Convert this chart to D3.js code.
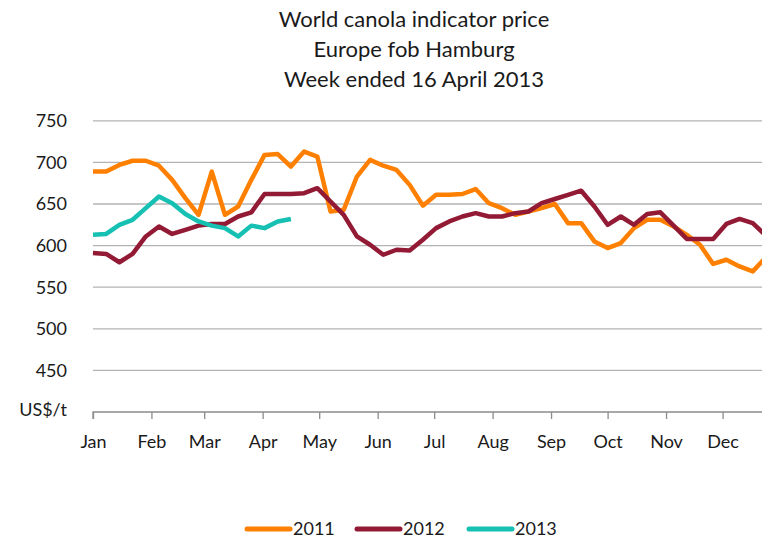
<!DOCTYPE html>
<html>
<head>
<meta charset="utf-8">
<script src="https://cdn.jsdelivr.net/npm/d3@7"></script>
<style>
  body { margin: 0; background: #fff; }
  svg { display: block; font-family: Lato, "Open Sans", sans-serif; }
</style>
</head>
<body>
<svg id="chart"></svg>
<script>
// === Data (weekly prices, US$/t) ===
const titleLines = ["World canola indicator price", "Europe fob Hamburg", "Week ended 16 April 2013"];
const yTicks = [450, 500, 550, 600, 650, 700, 750];

const price2011 = [689, 689, 697, 702, 702, 696, 679, 657, 637, 689, 637, 647, 679, 709, 710, 695,
  713, 707, 641, 643, 683, 703, 696, 691, 673, 648, 661, 661, 662, 668, 651, 645, 637, 641, 645, 650,
  627, 627, 605, 597, 603, 621, 631, 631, 623, 613, 601, 578, 583, 575, 569, 586];
const price2012 = [591, 590, 580, 590, 611, 623, 614, 619, 624, 626, 626, 635, 640, 662, 662, 662,
  663, 669, 653, 637, 611, 601, 589, 595, 594, 607, 621, 629, 635, 639, 635, 635, 639, 641, 651, 656,
  661, 666, 647, 625, 635, 625, 638, 640, 624, 608, 608, 608, 626, 632, 627, 612];
const price2013 = [613, 614, 625, 631, 645, 659, 651, 638, 629, 624, 621, 611, 624, 621, 629, 632];

const series = [
  { name: "2011", values: price2011, color: "#ff8000" },
  { name: "2012", values: price2012, color: "#931a35" },
  { name: "2013", values: price2013, color: "#16c0b3" }
];

const W = 762, H = 540;
const svg = d3.select("#chart").attr("width", W).attr("height", H);

const start = new Date(Date.UTC(2011, 0, 1));
const end = new Date(Date.UTC(2012, 0, 1));
const x = d3.scaleUtc().domain([start, end]).range([93, 93 + 365 * 1.885]);
const y = d3.scaleLinear().domain([400, 750]).range([412, 120.8]);
const weekDate = i => d3.utcDay.offset(start, 7 * i);
const months = d3.utcMonth.range(start, end);

// title
svg.append("g").selectAll("text").data(titleLines).enter().append("text")
  .attr("x", 414).attr("y", (d, i) => 27 + i * 30)
  .attr("text-anchor", "middle").style("font-size", "22px").attr("fill", "#1a1a1a")
  .text(d => d);

// gridlines
svg.append("g").selectAll("line").data(yTicks).enter().append("line")
  .attr("x1", 93).attr("x2", W).attr("y1", d => y(d)).attr("y2", d => y(d))
  .attr("stroke", "#b3b3b3").attr("stroke-width", 1.3);

// y labels
svg.append("g").selectAll("text").data(yTicks).enter().append("text")
  .attr("x", 67).attr("y", d => y(d)).attr("dy", "0.35em")
  .attr("text-anchor", "end").style("font-size", "18px").attr("fill", "#1a1a1a")
  .text(d => d);
svg.append("text").attr("x", 67).attr("y", y(400) + 4)
  .attr("text-anchor", "end").style("font-size", "18px").attr("fill", "#1a1a1a").text("US$/t");

// x axis
const xAxis = svg.append("g").attr("transform", `translate(0,${y(400)})`)
  .call(d3.axisBottom(x).tickValues(months).tickFormat(d3.utcFormat("%b")).tickSize(7).tickPadding(16));
xAxis.select(".domain").attr("stroke", "#8c8c8c").attr("stroke-width", 1.3).attr("d", `M93,7V0H${W}`);
xAxis.selectAll(".tick line").attr("stroke", "#8c8c8c").attr("stroke-width", 1.3);
xAxis.selectAll(".tick text").style("font-size", "18px").style("font-family", "Lato, sans-serif").attr("fill", "#1a1a1a");

// lines
const line = d3.line().x((d, i) => x(weekDate(i))).y(d => y(d));
svg.append("g").selectAll("path").data(series).enter().append("path")
  .attr("d", d => line(d.values))
  .attr("fill", "none").attr("stroke", d => d.color).attr("stroke-width", 4.5)
  .attr("stroke-linejoin", "round");

// legend
const legendX = [247, 357, 469];
const lg = svg.append("g").selectAll("g").data(series).enter().append("g")
  .attr("transform", (d, i) => `translate(${legendX[i]},529)`);
lg.append("line").attr("x1", 0).attr("x2", 43)
  .attr("stroke", d => d.color).attr("stroke-width", 5).attr("stroke-linecap", "round");
lg.append("text").attr("x", 46).attr("dy", "0.35em").style("font-size", "18px").attr("fill", "#1a1a1a")
  .text(d => d.name);
</script>
</body>
</html>
